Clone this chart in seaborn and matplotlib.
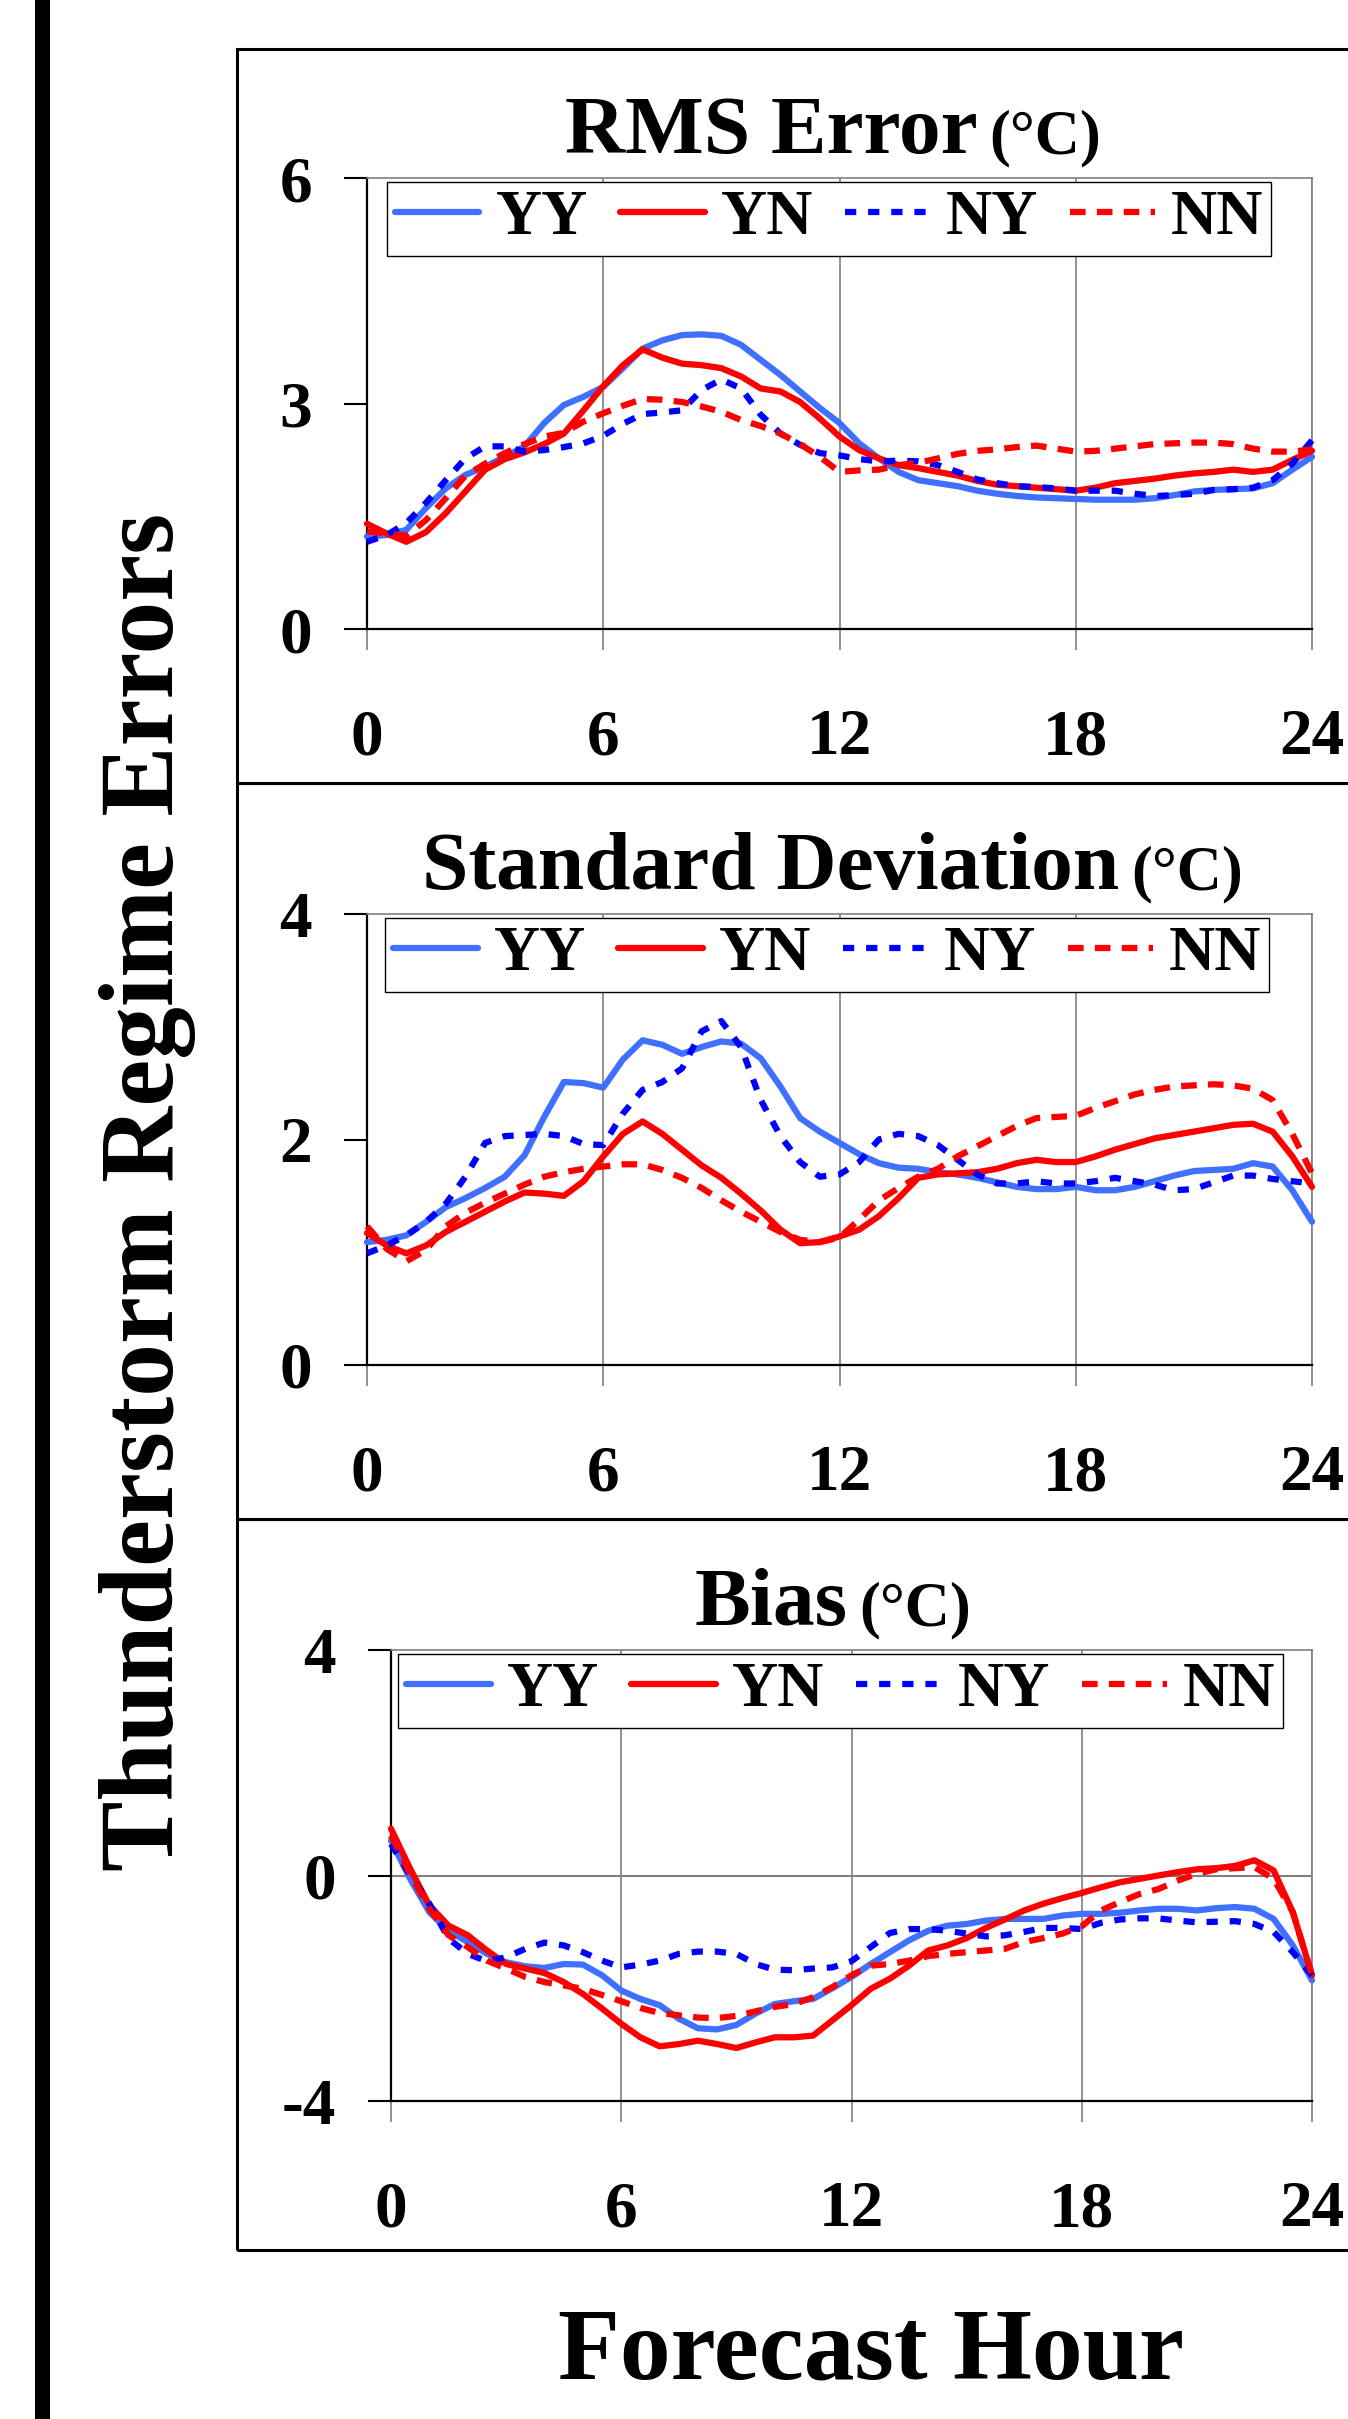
import matplotlib
matplotlib.use("Agg")
import matplotlib.pyplot as plt
from matplotlib.patches import Rectangle
from matplotlib.lines import Line2D
import seaborn as sns

# --- Data: forecast hour (half-hourly) and the four regimes per panel ---
hours = [h / 2 for h in range(49)]

rms_yy = [1.23, 1.25, 1.32, 1.61, 1.87, 2.05, 2.16, 2.29, 2.43, 2.74, 2.98, 3.09, 3.22,
          3.47, 3.73, 3.84, 3.91, 3.92, 3.90, 3.78, 3.58, 3.38, 3.16, 2.94, 2.74,
          2.47, 2.27, 2.09, 1.98, 1.94, 1.90, 1.84, 1.80, 1.77, 1.75, 1.74, 1.73,
          1.72, 1.72, 1.72, 1.74, 1.78, 1.83, 1.85, 1.86, 1.87, 1.94, 2.12, 2.29]
rms_yn = [1.40, 1.27, 1.16, 1.29, 1.54, 1.83, 2.12, 2.26, 2.35, 2.46, 2.60, 2.91, 3.23,
          3.51, 3.72, 3.61, 3.53, 3.51, 3.47, 3.36, 3.20, 3.16, 3.02, 2.80, 2.56,
          2.38, 2.27, 2.18, 2.14, 2.09, 2.04, 1.97, 1.92, 1.90, 1.88, 1.86, 1.84,
          1.88, 1.94, 1.97, 2.00, 2.04, 2.07, 2.09, 2.12, 2.09, 2.12, 2.25, 2.37]
rms_ny = [1.16, 1.25, 1.41, 1.68, 1.98, 2.27, 2.43, 2.43, 2.36, 2.38, 2.42, 2.47, 2.57,
          2.73, 2.86, 2.88, 2.91, 3.18, 3.32, 3.20, 2.85, 2.60, 2.45, 2.34, 2.31,
          2.26, 2.23, 2.24, 2.23, 2.18, 2.09, 1.99, 1.94, 1.90, 1.89, 1.87, 1.84,
          1.84, 1.84, 1.80, 1.77, 1.78, 1.80, 1.85, 1.86, 1.88, 1.98, 2.20, 2.51]
rms_nn = [1.30, 1.27, 1.24, 1.45, 1.74, 2.04, 2.20, 2.34, 2.46, 2.56, 2.61, 2.76, 2.87,
          2.97, 3.06, 3.05, 3.02, 2.96, 2.89, 2.78, 2.70, 2.60, 2.46, 2.29, 2.09,
          2.11, 2.12, 2.18, 2.21, 2.27, 2.33, 2.37, 2.39, 2.42, 2.44, 2.40, 2.36,
          2.37, 2.40, 2.43, 2.46, 2.47, 2.48, 2.48, 2.46, 2.40, 2.36, 2.36, 2.39]

sd_yy = [1.09, 1.11, 1.15, 1.27, 1.40, 1.48, 1.57, 1.67, 1.86, 2.20, 2.51, 2.50, 2.46,
         2.71, 2.88, 2.84, 2.76, 2.82, 2.87, 2.85, 2.72, 2.47, 2.19, 2.07, 1.97,
         1.87, 1.79, 1.75, 1.74, 1.71, 1.69, 1.66, 1.62, 1.58, 1.56, 1.56, 1.58,
         1.55, 1.55, 1.58, 1.63, 1.68, 1.72, 1.73, 1.74, 1.79, 1.76, 1.55, 1.27]
sd_yn = [1.17, 1.06, 0.99, 1.06, 1.18, 1.27, 1.36, 1.45, 1.53, 1.52, 1.50, 1.63, 1.85,
         2.05, 2.16, 2.05, 1.91, 1.77, 1.66, 1.52, 1.37, 1.20, 1.08, 1.09, 1.14,
         1.20, 1.32, 1.48, 1.66, 1.69, 1.70, 1.71, 1.74, 1.79, 1.82, 1.80, 1.80,
         1.85, 1.91, 1.96, 2.01, 2.04, 2.07, 2.10, 2.13, 2.14, 2.07, 1.85, 1.58]
sd_ny = [0.99, 1.06, 1.15, 1.27, 1.43, 1.67, 1.97, 2.03, 2.04, 2.05, 2.03, 1.96, 1.95,
         2.23, 2.44, 2.51, 2.63, 2.96, 3.05, 2.82, 2.35, 2.03, 1.80, 1.67, 1.69,
         1.80, 2.00, 2.05, 2.03, 1.95, 1.82, 1.69, 1.61, 1.61, 1.63, 1.61, 1.61,
         1.63, 1.66, 1.63, 1.60, 1.55, 1.56, 1.62, 1.68, 1.68, 1.65, 1.63, 1.61]
sd_nn = [1.23, 1.03, 0.92, 1.02, 1.23, 1.35, 1.44, 1.52, 1.60, 1.67, 1.71, 1.74, 1.76,
         1.78, 1.78, 1.73, 1.66, 1.57, 1.46, 1.36, 1.27, 1.18, 1.11, 1.09, 1.13,
         1.29, 1.46, 1.57, 1.67, 1.74, 1.85, 1.94, 2.03, 2.12, 2.19, 2.20, 2.21,
         2.28, 2.34, 2.40, 2.44, 2.47, 2.48, 2.49, 2.48, 2.45, 2.35, 2.05, 1.70]

bias_yy = [0.62, -0.06, -0.65, -0.98, -1.18, -1.39, -1.54, -1.61, -1.64, -1.57, -1.58, -1.77, -2.04,
           -2.19, -2.30, -2.54, -2.71, -2.73, -2.65, -2.45, -2.28, -2.23, -2.19, -2.00, -1.80,
           -1.57, -1.36, -1.15, -0.98, -0.89, -0.86, -0.80, -0.77, -0.77, -0.77, -0.71, -0.68,
           -0.68, -0.66, -0.62, -0.59, -0.59, -0.62, -0.58, -0.56, -0.59, -0.77, -1.24, -1.86]
bias_yn = [0.83, 0.12, -0.53, -0.89, -1.06, -1.33, -1.57, -1.65, -1.73, -1.89, -2.10, -2.36, -2.63,
           -2.87, -3.03, -2.99, -2.93, -2.99, -3.06, -2.96, -2.87, -2.87, -2.84, -2.57, -2.30,
           -2.01, -1.83, -1.60, -1.33, -1.24, -1.11, -0.93, -0.78, -0.62, -0.50, -0.40, -0.31,
           -0.21, -0.12, -0.06, 0.00, 0.06, 0.11, 0.13, 0.17, 0.27, 0.09, -0.65, -1.77]
bias_ny = [0.56, 0.00, -0.50, -1.12, -1.39, -1.52, -1.45, -1.30, -1.19, -1.24, -1.36, -1.51, -1.63,
           -1.58, -1.51, -1.39, -1.35, -1.35, -1.39, -1.57, -1.67, -1.68, -1.65, -1.63, -1.52,
           -1.27, -1.02, -0.95, -0.95, -0.98, -1.03, -1.08, -1.06, -1.00, -0.93, -0.93, -0.95,
           -0.84, -0.78, -0.76, -0.76, -0.80, -0.83, -0.82, -0.81, -0.86, -1.00, -1.36, -1.77]
bias_nn = [0.71, 0.03, -0.59, -1.06, -1.27, -1.51, -1.65, -1.80, -1.89, -1.95, -2.01, -2.12, -2.23,
           -2.35, -2.44, -2.48, -2.52, -2.53, -2.49, -2.41, -2.33, -2.28, -2.16, -1.98, -1.77,
           -1.60, -1.57, -1.51, -1.43, -1.39, -1.36, -1.33, -1.30, -1.18, -1.11, -1.03, -0.90,
           -0.62, -0.47, -0.33, -0.24, -0.09, 0.03, 0.11, 0.13, 0.15, -0.06, -0.65, -1.77]

regimes = ["YY", "YN", "NY", "NN"]
colors = ["#4070FF", "#FF0000", "#0000FF", "#FF0000"]
styles = ["-", "-", (0, (1.8, 1.9)), (0, (2.5, 1.8))]

# --- Style ---
sns.set_theme(style="white")
plt.rcParams["font.family"] = ["Liberation Serif", "DejaVu Serif"]
plt.rcParams["font.weight"] = "bold"
plt.rcParams["axes.unicode_minus"] = False
plt.rcParams["text.color"] = "black"
plt.rcParams["axes.labelcolor"] = "black"

W, H = 1348, 2419
LW = 4.5
fig = plt.figure(figsize=(W / 100, H / 100), dpi=100)


def fx(px):
    return px / W


def fy(py):
    return 1 - py / H


panels = [
    ("RMS Error", [rms_yy, rms_yn, rms_ny, rms_nn], (0, 6), [0, 3, 6], (367, 178, 1312, 629), 153, 0.021),
    ("Standard Deviation", [sd_yy, sd_yn, sd_ny, sd_nn], (0, 4), [0, 2, 4], (367, 914, 1312, 1365), 889, 0.019),
    ("Bias", [bias_yy, bias_yn, bias_ny, bias_nn], (-4, 4), [-4, 0, 4], (391, 1650, 1312, 2101), 1625, 0.008),
]

titles = []
for name, series, ylim, yticks, (l, t, r, b), title_y, leg_x in panels:
    ax = fig.add_axes([fx(l), fy(b), (r - l) / W, (b - t) / H])
    for vals, c, ls in zip(series, colors, styles):
        sns.lineplot(x=hours, y=vals, ax=ax, color=c, linewidth=LW, linestyle=ls,
                     errorbar=None, legend=False, clip_on=False, zorder=3)
    for line in ax.lines:
        line.set_dash_capstyle("butt")
        line.set_solid_joinstyle("round")

    if ylim[0] < 0:
        ax.axhline(0, color="#808080", linewidth=1.5, zorder=1)

    ax.set_xlim(0, 24)
    ax.set_ylim(*ylim)
    ax.set_xticks([0, 6, 12, 18, 24])
    ax.set_yticks(yticks)
    ax.set_xlabel("")
    ax.set_ylabel("")
    ax.grid(axis="x", color="#808080", linewidth=1.2)
    ax.grid(axis="y", visible=False)
    ax.set_axisbelow(True)

    ax.tick_params(axis="x", bottom=True, direction="out", length=15, width=1.2,
                   color="#808080", pad=42, labelsize=47, labelcolor="black")
    ax.tick_params(axis="y", left=True, direction="out", length=16.5, width=1.5,
                   color="black", pad=23, labelsize=47, labelcolor="black")
    for side in ["left", "bottom"]:
        ax.spines[side].set_color("black")
        ax.spines[side].set_linewidth(1.6)
    for side in ["top", "right"]:
        ax.spines[side].set_color("#808080")
        ax.spines[side].set_linewidth(1.2)

    handles = [Line2D([], [], color=c, linewidth=LW, linestyle=ls, dash_capstyle="butt")
               for c, ls in zip(colors, styles)]
    leg = ax.legend(handles, regimes, ncol=4, loc="upper left", bbox_to_anchor=(leg_x, 0.991),
                    fontsize=46, handlelength=1.33, handletextpad=0.25, columnspacing=0.5,
                    borderpad=0.12, borderaxespad=0, frameon=True, fancybox=False,
                    edgecolor="black", framealpha=1)
    leg.get_frame().set_linewidth(1.0)

    t1 = fig.text(0, fy(title_y), name, fontsize=60, ha="left", va="baseline")
    t2 = fig.text(0, fy(title_y), "(°C)", fontsize=45, ha="left", va="baseline")
    titles.append((t1, t2))

# centre each two-part title around x = 833 px
fig.canvas.draw()
renderer = fig.canvas.get_renderer()
for t1, t2 in titles:
    w1 = t1.get_window_extent(renderer).width
    w2 = t2.get_window_extent(renderer).width
    start = 833 - (w1 + 12 + w2) / 2
    t1.set_x(fx(start))
    t2.set_x(fx(start + w1 + 12))

# --- Chart-area boxes and the black bar on the left ---
for top, bottom in [(49, 783), (783, 1519), (1519, 2250)]:
    fig.add_artist(Rectangle((fx(237), fy(bottom)), 1.0, (bottom - top) / H,
                             transform=fig.transFigure, fill=False,
                             edgecolor="black", linewidth=2.2))
fig.add_artist(Rectangle((fx(35), 0), 15 / W, 1, transform=fig.transFigure,
                         facecolor="black", edgecolor="none"))

fig.text(fx(148), fy(1192), "Thunderstorm Regime Errors", rotation=90,
         ha="center", va="center", fontsize=76)
fig.text(fx(871), fy(2379), "Forecast Hour", ha="center", va="baseline", fontsize=73)

fig.savefig("out.png", dpi=100)
